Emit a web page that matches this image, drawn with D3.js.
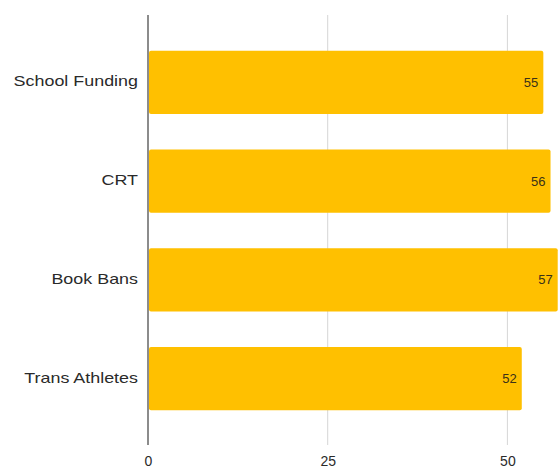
<!DOCTYPE html>
<html>
<head>
<meta charset="utf-8">
<script src="https://cdn.jsdelivr.net/npm/d3@7/dist/d3.min.js"></script>
<style>
  html, body { margin: 0; padding: 0; background: #ffffff; }
  svg { display: block; font-family: "Liberation Sans", Arial, sans-serif; }
</style>
</head>
<body>
<svg id="chart" width="559" height="474"></svg>
<script>
// Issue categories and their values
const categories = ["School Funding", "CRT", "Book Bans", "Trans Athletes"];
const values = [55, 56, 57, 52];
const tickValues = [0, 25, 50];

const svg = d3.select("#chart");
const width = 559, height = 474;
const margin = { left: 148, right: 0, top: 33, bottom: 46 };

const x = d3.scaleLinear()
  .domain([0, 25])
  .range([margin.left, margin.left + 179.7]);

const y = d3.scaleBand()
  .domain(categories)
  .range([margin.top, height - margin.bottom])
  .paddingInner(0.36)
  .paddingOuter(0.18);

const gridTop = 15, gridBottom = 445;

// Vertical gridlines
svg.append("g")
  .selectAll("line")
  .data(tickValues)
  .join("line")
  .attr("x1", d => x(d)).attr("x2", d => x(d))
  .attr("y1", gridTop).attr("y2", gridBottom)
  .attr("stroke", d => d === 0 ? "#666666" : "#d6d6d6")
  .attr("stroke-width", d => d === 0 ? 1.5 : 1);

// Bars
svg.append("g")
  .selectAll("rect")
  .data(categories)
  .join("rect")
  .attr("x", x(0) + 1)
  .attr("y", d => y(d))
  .attr("width", (d, i) => x(values[i]) - x(0) - 1)
  .attr("height", y.bandwidth())
  .attr("rx", 2)
  .attr("fill", "#ffc000");

// Value labels inside bar ends
svg.append("g")
  .selectAll("text")
  .data(categories)
  .join("text")
  .attr("x", (d, i) => x(values[i]) - 5)
  .attr("y", d => y(d) + y.bandwidth() / 2)
  .attr("dy", "0.35em")
  .attr("text-anchor", "end")
  .attr("font-size", 13)
  .attr("fill", "#3a3118")
  .text((d, i) => values[i]);

// Category labels (slightly widened glyphs)
svg.append("g")
  .selectAll("text")
  .data(categories)
  .join("text")
  .attr("transform", d => `translate(138, ${y(d) + y.bandwidth() / 2 - 1}) scale(1.28, 1)`)
  .attr("dy", "0.35em")
  .attr("text-anchor", "end")
  .attr("font-size", 14)
  .attr("fill", "#2a2a2a")
  .text(d => d);

// X axis tick labels
const xAxis = d3.axisBottom(x).tickValues(tickValues).tickSize(0).tickPadding(0);
const gx = svg.append("g")
  .attr("transform", `translate(0, 456)`)
  .call(xAxis);
gx.select(".domain").remove();
gx.selectAll("text")
  .attr("font-size", 14)
  .attr("font-family", "Liberation Sans, Arial, sans-serif")
  .attr("fill", "#2a2a2a");
</script>
</body>
</html>
